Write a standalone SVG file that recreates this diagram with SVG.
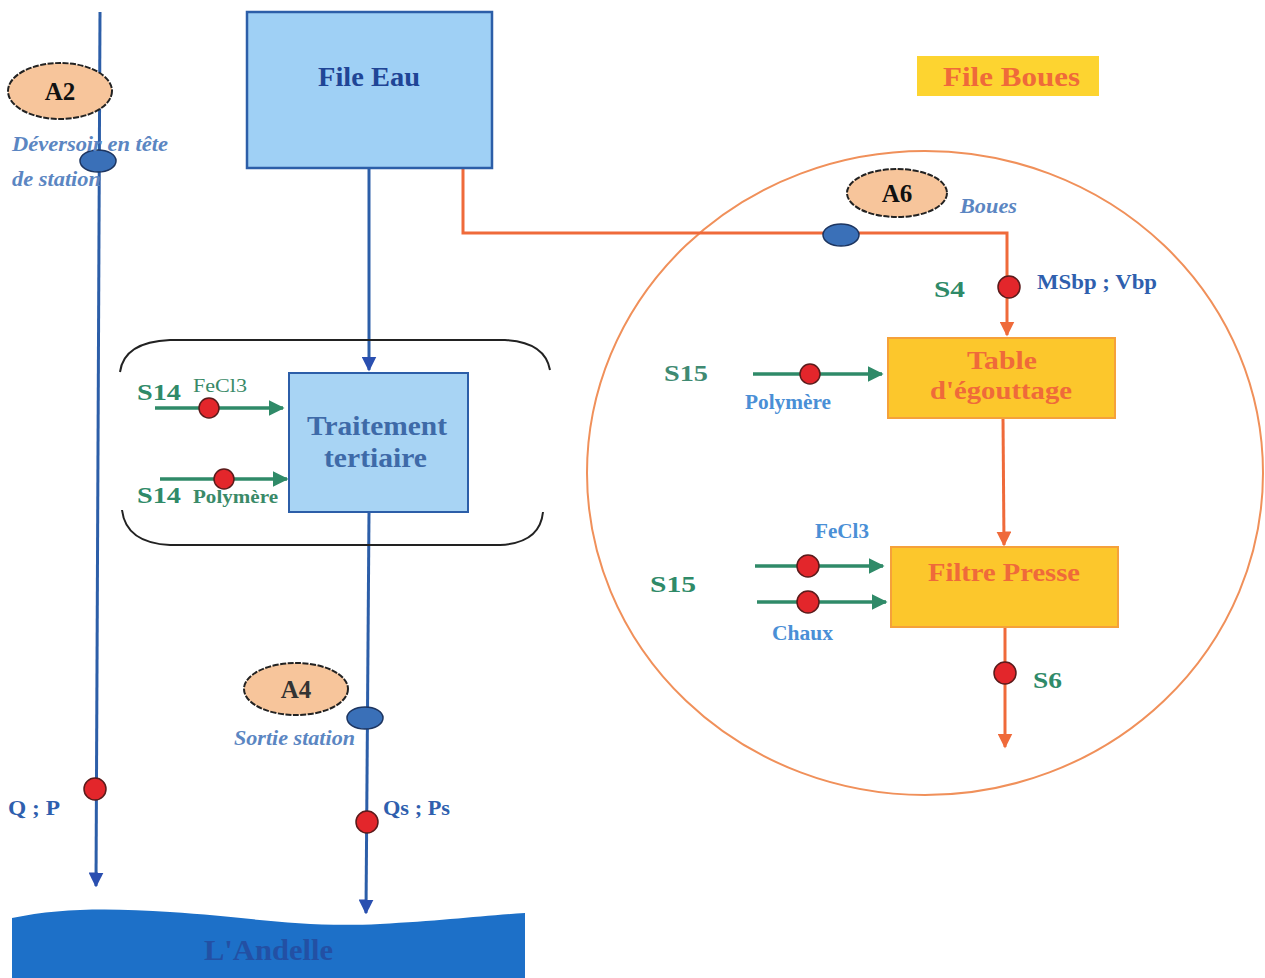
<svg xmlns="http://www.w3.org/2000/svg" width="1265" height="978" viewBox="0 0 1265 978">
<defs>
<style>
.t{font-family:"Liberation Serif","Times New Roman",serif;font-weight:bold}
.it{font-family:"Liberation Serif","Times New Roman",serif;font-style:italic;font-weight:bold;fill:#5b86c2}
.blueline{stroke:#2c5ea8;stroke-width:3;fill:none}
.orline{stroke:#ef6a3a;stroke-width:3;fill:none}
.grline{stroke:#2f8a68;stroke-width:3.5;fill:none}
.dot{fill:#e3262b;stroke:#5a1b1b;stroke-width:1.5}
.bdot{fill:#3a70b8;stroke:#1d3560;stroke-width:1.5}
.tag{fill:#f7c59b;stroke:#222;stroke-width:2;stroke-dasharray:6 1.5}
.green{fill:#2f8a68}
.lblue{fill:#4a8fd6}
</style>
<marker id="ab" viewBox="0 0 10 10" refX="9" refY="5" markerWidth="5" markerHeight="5" orient="auto"><path d="M0,0 L10,5 L0,10 z" fill="#2a4fb0"/></marker>
<marker id="ao" viewBox="0 0 10 10" refX="9" refY="5" markerWidth="5" markerHeight="5" orient="auto"><path d="M0,0 L10,5 L0,10 z" fill="#ef6a3a"/></marker>
<marker id="ag" viewBox="0 0 10 10" refX="9" refY="5" markerWidth="4.5" markerHeight="4.5" orient="auto"><path d="M0,0 L10,5 L0,10 z" fill="#2f8a68"/></marker>
</defs>
<rect width="1265" height="978" fill="#ffffff"/>

<g id="circle-boues">
<ellipse cx="925" cy="473" rx="338" ry="322" fill="none" stroke="#f0905a" stroke-width="2"/>
</g>

<g id="connectors">
<path class="blueline" d="M100,12 L96,886" marker-end="url(#ab)"/>
<path class="blueline" d="M369,168 L369,370" marker-end="url(#ab)"/>
<path class="blueline" d="M369,512 L366,913" marker-end="url(#ab)"/>
<path class="orline" d="M463,168 L463,233 L1007,233 L1007,335" marker-end="url(#ao)"/>
<path class="orline" d="M1003,418 L1004,545" marker-end="url(#ao)"/>
<path class="orline" d="M1005,627 L1005,747" marker-end="url(#ao)"/>
<path class="grline" d="M155,408 L283,408" marker-end="url(#ag)"/>
<path class="grline" d="M160,479 L287,479" marker-end="url(#ag)"/>
<path class="grline" d="M753,374 L882,374" marker-end="url(#ag)" stroke="#3f8a72"/>
<path class="grline" d="M755,566 L883,566" marker-end="url(#ag)" stroke="#3d6f5c"/>
<path class="grline" d="M757,602 L886,602" marker-end="url(#ag)"/>
</g>

<g id="bracket">
<path d="M120,372 Q124,342 170,340 L505,340 Q545,342 550,370" fill="none" stroke="#222" stroke-width="2"/>
<path d="M122,510 Q126,543 170,545 L500,545 Q540,543 543,512" fill="none" stroke="#222" stroke-width="2"/>
</g>

<g id="file-eau">
<rect x="247" y="12" width="245" height="156" fill="#9fd0f5" stroke="#2c5ea8" stroke-width="2.5"/>
<text class="t" x="318" y="86" font-size="27" fill="#1f4596" textLength="102" lengthAdjust="spacingAndGlyphs">File Eau</text>
</g>

<g id="traitement">
<rect x="289" y="373" width="179" height="139" fill="#a8d4f4" stroke="#2c5ea8" stroke-width="2"/>
<text class="t" x="307" y="435" font-size="27" fill="#3e6aa8" textLength="140" lengthAdjust="spacingAndGlyphs">Traitement</text>
<text class="t" x="324" y="467" font-size="27" fill="#3e6aa8" textLength="103" lengthAdjust="spacingAndGlyphs">tertiaire</text>
</g>

<g id="s14-fecl3">
<text class="t green" x="137" y="400" font-size="24" textLength="44" lengthAdjust="spacingAndGlyphs">S14</text>
<text x="193" y="392" font-size="19" fill="#3a8a68" font-family="Liberation Serif, serif" textLength="54" lengthAdjust="spacingAndGlyphs">FeCl3</text>
<circle class="dot" cx="209" cy="408" r="10"/>
</g>
<g id="s14-polymere">
<circle class="dot" cx="224" cy="479" r="10"/>
<text class="t green" x="137" y="503" font-size="24" textLength="44" lengthAdjust="spacingAndGlyphs">S14</text>
<text class="t" x="193" y="503" font-size="18" fill="#3a8a68" textLength="85" lengthAdjust="spacingAndGlyphs">Polymère</text>
</g>

<g id="a2">
<ellipse class="tag" cx="60" cy="91" rx="52" ry="28"/>
<text class="t" x="60" y="100" text-anchor="middle" font-size="25" fill="#111">A2</text>
<ellipse class="bdot" cx="98" cy="161" rx="18" ry="11"/>
<text class="it" x="12" y="151" font-size="20" textLength="156" lengthAdjust="spacingAndGlyphs">Déversoir en tête</text>
<text class="it" x="12" y="186" font-size="20" textLength="89" lengthAdjust="spacingAndGlyphs">de station</text>
</g>

<g id="qp">
<circle class="dot" cx="95" cy="789" r="11"/>
<text class="t" x="8" y="815" font-size="21" fill="#2f5fae" textLength="52" lengthAdjust="spacingAndGlyphs">Q ; P</text>
</g>

<g id="a4">
<ellipse class="tag" cx="296" cy="689" rx="52" ry="26"/>
<text class="t" x="296" y="698" text-anchor="middle" font-size="25" fill="#333">A4</text>
<ellipse class="bdot" cx="365" cy="718" rx="18" ry="11"/>
<text class="it" x="234" y="745" font-size="20" textLength="121" lengthAdjust="spacingAndGlyphs">Sortie station</text>
</g>

<g id="qsps">
<circle class="dot" cx="367" cy="822" r="11"/>
<text class="t" x="383" y="815" font-size="21" fill="#2f5fae" textLength="67" lengthAdjust="spacingAndGlyphs">Qs ; Ps</text>
</g>

<g id="andelle">
<path d="M12,918 C60,908 110,908 170,912 C250,917 300,928 380,924 C440,921 480,916 525,913 L525,978 L12,978 Z" fill="#1d70c8"/>
<text class="t" x="204" y="960" font-size="29" fill="#2350a4" textLength="129" lengthAdjust="spacingAndGlyphs">L'Andelle</text>
</g>

<g id="file-boues">
<rect x="917" y="56" width="182" height="40" fill="#fdd430"/>
<text class="t" x="943" y="86" font-size="28" fill="#ef6a3a" textLength="137" lengthAdjust="spacingAndGlyphs">File Boues</text>
</g>

<g id="a6">
<ellipse class="tag" cx="897" cy="193" rx="50" ry="24"/>
<text class="t" x="897" y="202" text-anchor="middle" font-size="25" fill="#111">A6</text>
<text class="it" x="960" y="213" font-size="21" textLength="57" lengthAdjust="spacingAndGlyphs">Boues</text>
<ellipse class="bdot" cx="841" cy="235" rx="18" ry="11"/>
</g>

<g id="s4">
<circle class="dot" cx="1009" cy="287" r="11"/>
<text class="t green" x="934" y="297" font-size="24" textLength="31" lengthAdjust="spacingAndGlyphs">S4</text>
<text class="t" x="1037" y="289" font-size="21" fill="#2f5fae" textLength="120" lengthAdjust="spacingAndGlyphs">MSbp ; Vbp</text>
</g>

<g id="table">
<rect x="888" y="338" width="227" height="80" fill="#fcc72c" stroke="#f5a13a" stroke-width="2"/>
<text class="t" x="967" y="369" font-size="26" fill="#ef6a3a" textLength="70" lengthAdjust="spacingAndGlyphs">Table</text>
<text class="t" x="930" y="399" font-size="26" fill="#ef6a3a" textLength="142" lengthAdjust="spacingAndGlyphs">d'égouttage</text>
</g>

<g id="s15-polymere">
<text class="t" x="664" y="381" font-size="24" fill="#3f8a72" textLength="44" lengthAdjust="spacingAndGlyphs">S15</text>
<circle class="dot" cx="810" cy="374" r="10"/>
<text class="t lblue" x="745" y="409" font-size="20" textLength="86" lengthAdjust="spacingAndGlyphs">Polymère</text>
</g>

<g id="filtre">
<rect x="891" y="547" width="227" height="80" fill="#fcc72c" stroke="#f5a13a" stroke-width="2"/>
<text class="t" x="928" y="581" font-size="26" fill="#ef6a3a" textLength="152" lengthAdjust="spacingAndGlyphs">Filtre Presse</text>
</g>

<g id="s15-filtre">
<text class="t green" x="650" y="592" font-size="24" textLength="46" lengthAdjust="spacingAndGlyphs">S15</text>
<text class="t lblue" x="815" y="538" font-size="20" textLength="54" lengthAdjust="spacingAndGlyphs">FeCl3</text>
<circle class="dot" cx="808" cy="566" r="11"/>
<circle class="dot" cx="808" cy="602" r="11"/>
<text class="t lblue" x="772" y="640" font-size="20" textLength="61" lengthAdjust="spacingAndGlyphs">Chaux</text>
</g>

<g id="s6">
<circle class="dot" cx="1005" cy="673" r="11"/>
<text class="t green" x="1033" y="688" font-size="24" textLength="29" lengthAdjust="spacingAndGlyphs">S6</text>
</g>
</svg>
